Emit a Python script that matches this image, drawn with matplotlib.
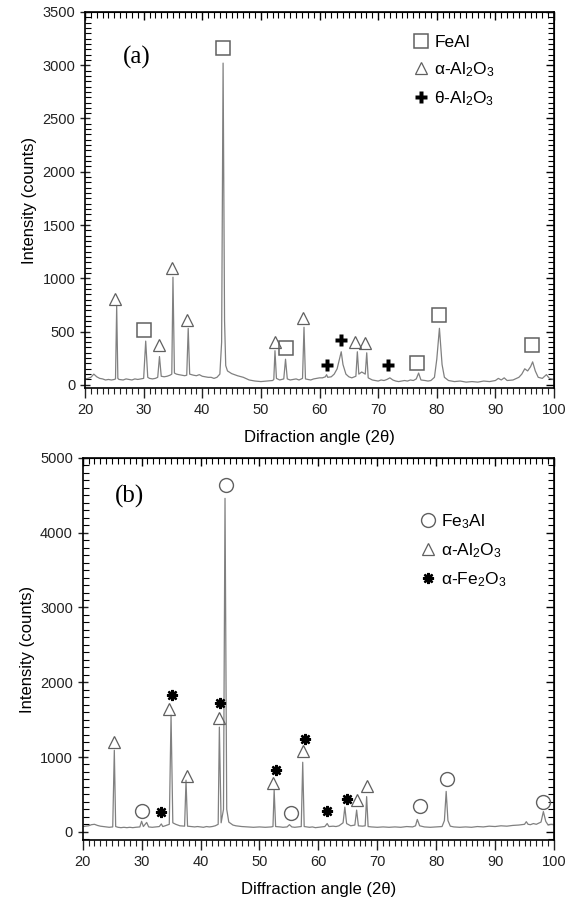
import matplotlib.pyplot as plt
from matplotlib.lines import Line2D
from matplotlib.ticker import MultipleLocator

plt.rcParams['font.family'] = ['Liberation Sans', 'DejaVu Sans']
plt.rcParams['mathtext.default'] = 'regular'

# Pattern (a): diffraction angle vs counts
angle_a = [20, 20.5, 21, 21.5, 22, 22.5, 23, 23.5, 24, 24.5, 25, 25.2, 25.4, 25.6,
           25.8, 26.5, 27, 27.5, 28, 28.5, 29, 29.5, 30.0, 30.35, 30.7,
           31, 31.5, 32, 32.4, 32.7, 33.0, 33.5, 34, 34.5, 34.8, 35.0, 35.25,
           35.6, 36, 36.5, 37, 37.35, 37.6, 37.85, 38.5, 39, 39.5, 40, 40.5, 41,
           41.5, 42, 42.5, 43, 43.3, 43.55, 43.8, 44.0, 44.3, 45, 46, 47, 48, 49,
           50, 51, 52, 52.2, 52.4, 52.65, 53.2, 53.9, 54.2, 54.5, 55, 55.5, 56,
           56.5, 57.1, 57.35, 57.6, 58, 58.5, 59, 59.5, 60, 60.5, 61, 61.2, 61.4,
           62, 62.5, 63, 63.4, 63.7, 64.0, 64.5, 65, 65.5, 66.2, 66.45, 66.7,
           67.2, 67.8, 68.05, 68.3, 69, 69.5, 70, 70.5, 71, 71.5, 72, 72.5, 73,
           73.5, 74, 74.5, 75, 75.5, 76, 76.5, 76.9, 77.3, 78, 78.5, 79, 79.6,
           80.0, 80.45, 80.9, 81.3, 82, 83, 84, 85, 86, 87, 88, 89, 90, 90.5, 91,
           91.5, 92, 93, 94, 94.5, 95, 95.5, 96, 96.35, 96.8, 97.3, 98, 98.7,
           99.2, 100]
counts_a = [55, 60, 70, 100, 75, 60, 55, 45, 50, 45, 50, 55, 740, 60,
            50, 45, 55, 50, 45, 55, 50, 55, 60, 410, 70,
            60, 55, 60, 70, 265, 80, 75, 80, 90, 100, 1010, 110,
            100, 95, 90, 85, 90, 530, 100, 90, 85, 95, 80, 75, 70,
            70, 60, 70, 100, 400, 3020, 600, 180, 130, 105, 85, 70, 45, 35,
            30, 35, 40, 50, 320, 60, 45, 55, 240, 55, 45, 50, 55,
            45, 60, 540, 55, 50, 45, 55, 60, 65, 65, 75, 95, 70,
            75, 100, 150, 240, 310, 190, 100, 75, 65, 80, 310, 100,
            120, 100, 300, 65, 45, 40, 35, 45, 40, 50, 65, 45, 35,
            30, 35, 40, 35, 45, 40, 55, 110, 45, 40, 35, 40, 70,
            240, 530, 190, 70, 40, 30, 35, 25, 30, 25, 35, 30, 40, 60, 45,
            65, 40, 45, 70, 100, 150, 130, 170, 215, 130, 70, 60, 95,
            60, 50]

# Phase markers for (a)
feal_x = [30.1, 43.6, 54.2, 76.6, 80.45, 96.2]
feal_y = [516, 3158, 344, 209, 657, 375]
alal_a_x = [25.1, 32.6, 34.8, 37.45, 52.4, 57.25, 66.05, 67.75]
alal_a_y = [807, 369, 1094, 610, 406, 626, 406, 391]
theta_x = [61.2, 63.6, 71.6]
theta_y = [188, 422, 181]

# Pattern (b)
angle_b = [20, 20.5, 21, 21.5, 22, 22.5, 23, 23.5, 24, 24.5, 25.1, 25.37, 25.6,
           26, 26.5, 27, 27.5, 28, 28.5, 29, 29.7, 30.0, 30.3, 30.86, 31.2,
           31.8, 32.5, 33, 33.35, 33.6, 34, 34.7, 35.0, 35.3, 35.8, 36.5, 37.3,
           37.54, 37.8, 38.5, 39, 39.5, 40, 40.5, 41, 41.5, 42, 42.5, 43.0, 43.2,
           43.5, 43.9, 44.16, 44.45, 44.8, 45.5, 46, 47, 48, 49, 50, 51, 52,
           52.3, 52.5, 52.75, 53.5, 54, 54.7, 55.1, 55.5, 56, 56.5, 57.1, 57.35,
           57.6, 58.5, 59, 59.5, 60, 60.5, 61.1, 61.5, 61.8, 62.5, 63, 63.5,
           64.2, 64.5, 64.8, 65.5, 66.2, 66.5, 66.8, 67.5, 67.95, 68.2, 68.45,
           69, 70, 71, 72, 73, 74, 75, 76, 76.5, 76.8, 77.2, 78, 79, 80, 81,
           81.4, 81.7, 82.0, 82.4, 83, 84, 85, 86, 87, 88, 89, 90, 91, 92, 93,
           94, 95, 95.3, 95.6, 96, 96.5, 97, 97.8, 98.2, 98.6, 99, 99.5, 100]
counts_b = [70, 75, 80, 95, 100, 85, 75, 70, 65, 60, 65, 1090, 70,
            60, 55, 60, 55, 60, 55, 60, 65, 140, 70, 125, 65,
            60, 65, 70, 105, 70, 80, 100, 1560, 120, 100, 80, 75,
            690, 75, 70, 65, 70, 65, 60, 70, 65, 70, 80, 100, 1400,
            120, 300, 4460, 300, 130, 90, 80, 70, 65, 60, 65, 60, 65,
            70, 560, 70, 65, 60, 65, 95, 65, 60, 65, 70, 930,
            70, 60, 65, 55, 60, 65, 70, 110, 70, 75, 70, 80,
            120, 330, 110, 80, 90, 290, 80, 75, 80, 470, 70,
            65, 60, 65, 60, 65, 60, 70, 65, 80, 165, 80, 65, 60, 65, 70,
            150, 540, 150, 75, 65, 60, 65, 60, 70, 65, 75, 70, 80, 75, 85,
            90, 100, 135, 100, 95, 110, 100, 130, 270, 140, 90, 100, 95]

# Phase markers for (b)
fe3al_x = [30.1, 44.28, 55.37, 77.3, 81.8, 98.2]
fe3al_y = [280, 4644, 253, 347, 702, 392]
alal_b_x = [25.37, 34.7, 37.65, 43.09, 52.36, 57.46, 66.63, 68.32]
alal_b_y = [1200, 1645, 747, 1525, 658, 1080, 422, 613]
fe2o3_x = [33.35, 35.16, 43.36, 52.77, 57.74, 61.53, 64.82]
fe2o3_y = [267, 1831, 1725, 832, 1245, 276, 445]

line_color = '#808080'
mark_color = '#606060'

sq = dict(marker='s', ms=10, mfc='none', mec=mark_color, mew=1.1, ls='none')
tri = dict(marker='^', ms=9, mfc='none', mec=mark_color, mew=0.9, ls='none')
plus = dict(marker='P', ms=9, mfc='black', mec='none', ls='none')
circ = dict(marker='o', ms=10, mfc='none', mec=mark_color, mew=1.0, ls='none')
ast = dict(marker=(8, 2, 0), ms=8, mfc='black', mec='black', mew=1.7, ls='none')


def style_axes(ax, ymajor, yminor):
    # bottom/left ticks with labels, top/right ticks pointing inward
    for axis, step in ((ax.xaxis, 10), (ax.yaxis, ymajor)):
        axis.set_major_locator(MultipleLocator(step))
    ax.xaxis.set_minor_locator(MultipleLocator(1))
    ax.yaxis.set_minor_locator(MultipleLocator(yminor))
    ax.tick_params(axis='x', which='both', direction='out', labelsize=10.5,
                   colors='#222222')
    ax.tick_params(axis='y', which='major', direction='inout', labelsize=10.5,
                   colors='#222222')
    ax.tick_params(axis='y', which='minor', direction='in')
    ax.tick_params(which='major', length=7, width=1.0)
    ax.tick_params(which='minor', length=4, width=0.8)

    top = ax.secondary_xaxis('top')
    top.xaxis.set_major_locator(MultipleLocator(10))
    top.xaxis.set_minor_locator(MultipleLocator(1))
    top.tick_params(which='both', direction='in', labeltop=False)
    top.tick_params(which='major', length=6, width=1.0)
    top.tick_params(which='minor', length=4, width=0.8)

    right = ax.secondary_yaxis('right')
    right.yaxis.set_major_locator(MultipleLocator(ymajor))
    right.yaxis.set_minor_locator(MultipleLocator(yminor))
    right.tick_params(which='both', direction='in', labelright=False)
    right.tick_params(which='major', length=6, width=1.0)
    right.tick_params(which='minor', length=4, width=0.8)

    for s in ax.spines.values():
        s.set_linewidth(1.2)
    ax.set_xlim(20, 100)
    ax.set_ylabel('Intensity (counts)', fontsize=12)


fig = plt.figure(figsize=(5.71, 9.01), dpi=100)

# Panel (a)
ax1 = fig.add_axes([0.1489, 0.5694, 0.8214, 0.4173])
ax1.plot(angle_a, counts_a, color=line_color, lw=0.9)
ax1.plot(feal_x, feal_y, **sq)
ax1.plot(alal_a_x, alal_a_y, **tri)
ax1.plot(theta_x, theta_y, **plus)
ax1.set_ylim(-30, 3500)
style_axes(ax1, 500, 50)
ax1.set_xlabel('Difraction angle (2\u03b8)', fontsize=12, labelpad=10)
ax1.text(0.111, 0.878, '(a)', transform=ax1.transAxes, fontsize=18,
         family='Liberation Serif', ha='center', va='center')
h1 = [Line2D([], [], **sq), Line2D([], [], **tri), Line2D([], [], **plus)]
ax1.legend(h1, ['FeAl', '\u03b1-Al$_2$O$_3$', '\u03b8-Al$_2$O$_3$'],
           loc='upper left', bbox_to_anchor=(0.665, 0.981), frameon=False,
           fontsize=12.5, handlelength=1.0, handletextpad=0.25, labelspacing=0.6)

# Panel (b)
ax2 = fig.add_axes([0.1448, 0.0677, 0.8254, 0.4240])
ax2.plot(angle_b, counts_b, color=line_color, lw=0.9)
ax2.plot(fe3al_x, fe3al_y, **circ)
ax2.plot(alal_b_x, alal_b_y, **tri)
ax2.plot(fe2o3_x, fe2o3_y, **ast)
ax2.set_ylim(-110, 5000)
style_axes(ax2, 1000, 100)
ax2.set_xlabel('Diffraction angle (2\u03b8)', fontsize=12, labelpad=10)
ax2.text(0.10, 0.899, '(b)', transform=ax2.transAxes, fontsize=18,
         family='Liberation Serif', ha='center', va='center')
h2 = [Line2D([], [], **circ), Line2D([], [], **tri), Line2D([], [], **ast)]
ax2.legend(h2, ['Fe$_3$Al', '\u03b1-Al$_2$O$_3$', '\u03b1-Fe$_2$O$_3$'],
           loc='upper left', bbox_to_anchor=(0.681, 0.899), frameon=False,
           fontsize=12.5, handlelength=1.0, handletextpad=0.25, labelspacing=0.6)

fig.savefig('out.png', dpi=100)
